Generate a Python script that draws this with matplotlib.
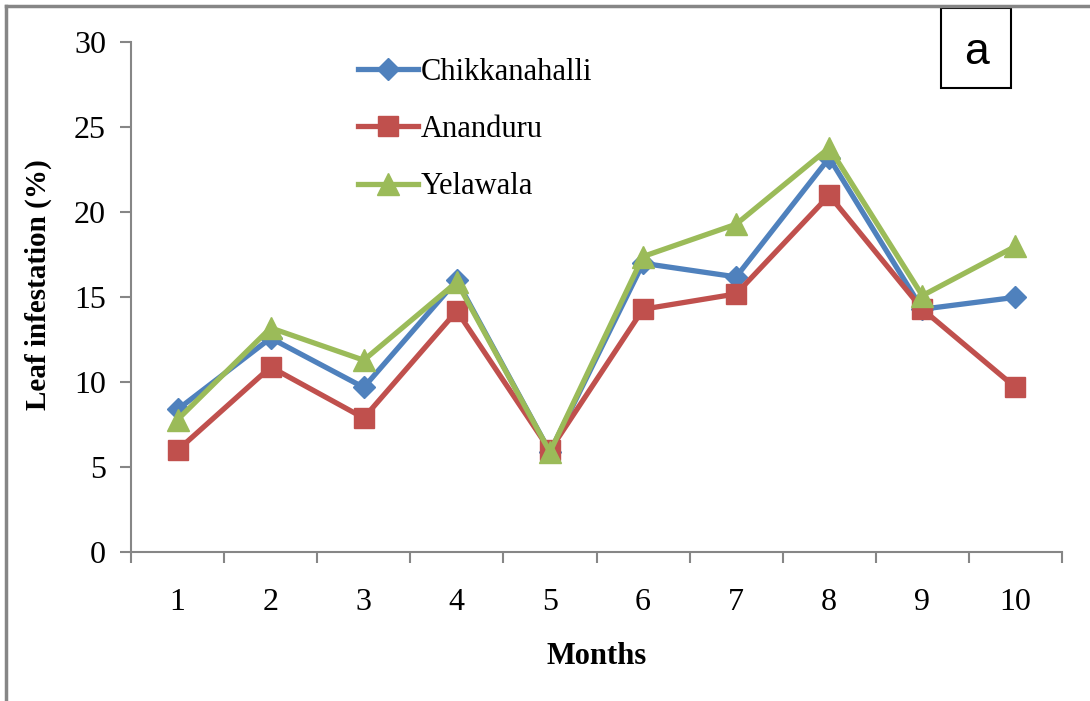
import matplotlib.pyplot as plt
from matplotlib.lines import Line2D
from matplotlib.patches import Rectangle

plt.rcParams['font.family'] = ['Liberation Serif', 'DejaVu Serif']

# months and leaf infestation (%) per site
months = [1, 2, 3, 4, 5, 6, 7, 8, 9, 10]
chikkanahalli = [8.4, 12.6, 9.7, 16.0, 5.9, 17.0, 16.2, 23.2, 14.3, 15.0]
ananduru = [6.0, 10.9, 7.9, 14.2, 6.0, 14.3, 15.2, 21.0, 14.3, 9.7]
yelawala = [7.8, 13.2, 11.3, 15.9, 5.9, 17.4, 19.3, 23.8, 15.1, 18.0]

blue = '#4F81BD'
red = '#C0504D'
green = '#9BBB59'
axis_grey = '#868686'

fig = plt.figure(figsize=(10.9, 7.01), dpi=100)
ax = fig.add_axes([131 / 1090, 1 - 552.3 / 701, (1062 - 131) / 1090, (552.3 - 42.3) / 701])

ax.plot(months, chikkanahalli, color=blue, lw=3.8, marker='D', ms=11, label='Chikkanahalli')
ax.plot(months, ananduru, color=red, lw=3.8, marker='s', ms=15, label='Ananduru')
ax.plot(months, yelawala, color=green, lw=3.8, marker='^', ms=16, label='Yelawala')

ax.set_xlim(0.5, 10.5)
ax.set_ylim(0, 30)
ax.set_yticks(range(0, 31, 5))
ax.set_xticks(months)
ax.set_xticks([m + 0.5 for m in range(0, 11)], minor=True)
ax.tick_params(axis='x', which='major', length=0, pad=26, labelsize=23)
ax.tick_params(axis='x', which='minor', length=8, width=1.5, color=axis_grey, direction='out')
ax.tick_params(axis='y', length=8, width=1.5, color=axis_grey, direction='out', pad=10, labelsize=23)

for s in ['top', 'right']:
    ax.spines[s].set_visible(False)
for s in ['left', 'bottom']:
    ax.spines[s].set_color(axis_grey)
    ax.spines[s].set_linewidth(1.5)

ax.set_xlabel('Months', fontsize=22, fontweight='bold', labelpad=18)
ax.set_ylabel('Leaf infestation (%)', fontsize=21, fontweight='bold')
ax.yaxis.set_label_coords(-0.085, 0.524)

ax.legend(loc='upper left', bbox_to_anchor=(358 / 1090, 1 - 58 / 701),
          bbox_transform=fig.transFigure, frameon=False, fontsize=22, borderpad=0,
          borderaxespad=0, handlelength=1.95, labelspacing=0.92, handletextpad=0.1)

# panel tag "a"
fig.patches.append(Rectangle((941 / 1090, 1 - 88 / 701), 70 / 1090, 80 / 701,
                             transform=fig.transFigure, fill=False, ec='black', lw=1.5))
fig.text(976 / 1090, 1 - 52 / 701, 'a', ha='center', va='center', fontsize=32,
         family='Liberation Sans')

# outer chart border (grey, clipped on right and bottom)
fig.add_artist(Line2D([6 / 1090, 1.0], [1 - 6 / 701] * 2, transform=fig.transFigure,
                      color=axis_grey, lw=2.5))
fig.add_artist(Line2D([6 / 1090] * 2, [0.0, 1 - 6 / 701], transform=fig.transFigure,
                      color=axis_grey, lw=2.5))

fig.savefig('out.png', dpi=100)
